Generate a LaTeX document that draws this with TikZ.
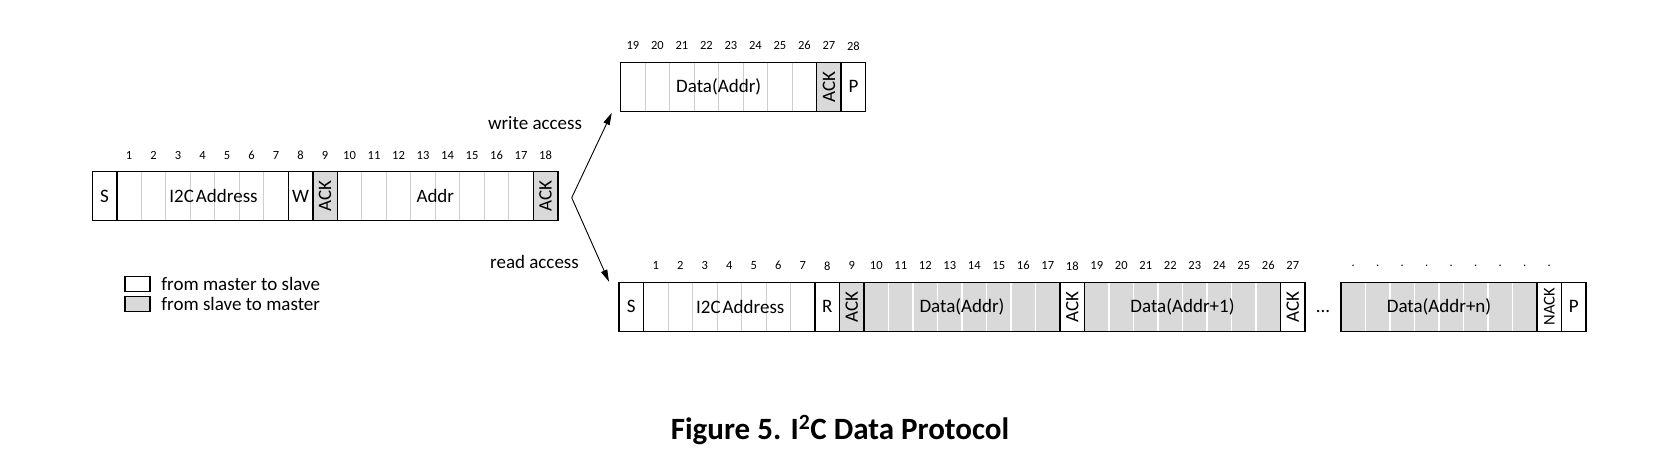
\documentclass[tikz,border=0pt]{standalone}
\usepackage{fontspec}
\setmainfont{Carlito}
\usetikzlibrary{positioning,calc,arrows.meta}

\definecolor{slavefill}{RGB}{217,217,217}
\definecolor{celldiv}{RGB}{205,205,205}

\tikzset{
    field/.style={draw=black, line width=1.5pt, outer sep=0pt, inner sep=0pt,
        minimum height=49pt, font=\fontsize{19}{21}\selectfont},
    m2s/.style={field, fill=white, cellline/.style={draw=celldiv, line width=1pt}},
    s2m/.style={field, fill=slavefill, cellline/.style={draw=white, line width=1.6pt}},
    fieldw/.style={minimum width=#1*24.5pt},
    cellsplit/.style={fieldw=#1, path picture={
            \foreach \k in {2,...,#1}
                \draw[cellline] ([xshift=\k*24.5pt-24.5pt]path picture bounding box.north west)
                    -- ([xshift=\k*24.5pt-24.5pt]path picture bounding box.south west);}},
    bitnum/.style={font=\fontsize{12.5}{13}\selectfont, inner sep=0pt},
    txt/.style={font=\fontsize{19}{21}\selectfont, inner sep=0pt},
    legbox/.style={draw=black, line width=1.5pt, minimum width=25pt, minimum height=15pt, inner sep=0pt},
    access/.style={-{Triangle[length=12pt,width=6.5pt]}, line width=0.9pt}
}

\begin{document}
\begin{tikzpicture}[x=1pt, y=-1pt]
    \useasboundingbox (0,0) rectangle (1673,475);

    % Draw the address frame
    \node[m2s, fieldw=1, anchor=north west] (ls) at (92.3,171.7) {S};
    \node[m2s, cellsplit=7, right=0pt of ls] (laddr) {\hspace*{22pt}I2C\hspace{2pt}Address};
    \node[m2s, fieldw=1, right=0pt of laddr] (lw) {W};
    \node[s2m, fieldw=1, right=0pt of lw] (lack1) {\rotatebox{90}{ACK}};
    \node[m2s, cellsplit=8, right=0pt of lack1] (lreg) {Addr};
    \node[s2m, fieldw=1, right=0pt of lreg] (lack2) {\rotatebox{90}{ACK}};
    \foreach \n in {1,...,18}
        \node[bitnum] (lnum\n) at ([xshift=\n*24.5pt+12.25pt, yshift=16.5pt]ls.north west) {\n};

    % Draw the write frame
    \node[m2s, cellsplit=8, anchor=north west] (wdata) at (620.7,62.3) {Data(Addr)};
    \node[s2m, fieldw=1, right=0pt of wdata] (wack) {\rotatebox{90}{ACK}};
    \node[m2s, fieldw=1, right=0pt of wack] (wp) {P};
    \foreach \n in {19,...,28}
        \node[bitnum] (wnum\n) at ([xshift={(\n-19)*24.5pt+12.25pt}, yshift=16.5pt]wdata.north west) {\n};

    % Draw the read frame
    \node[m2s, fieldw=1, anchor=north west] (rs) at (619,282.3) {S};
    \node[m2s, cellsplit=7, right=0pt of rs] (raddr) {\hspace*{22pt}I2C\hspace{2pt}Address};
    \node[m2s, fieldw=1, right=0pt of raddr] (rr) {R};
    \node[s2m, fieldw=1, right=0pt of rr] (rack1) {\rotatebox{90}{ACK}};
    \node[s2m, cellsplit=8, right=0pt of rack1] (rdata1) {Data(Addr)};
    \node[m2s, fieldw=1, right=0pt of rdata1] (rack2) {\rotatebox{90}{ACK}};
    \node[s2m, cellsplit=8, right=0pt of rack2] (rdata2) {Data(Addr+1)};
    \node[m2s, fieldw=1, right=0pt of rdata2] (rack3) {\rotatebox{90}{ACK}};
    \node[s2m, cellsplit=8, right=36pt of rack3] (rdatan) {Data(Addr+n)};
    \node[m2s, fieldw=1, right=0pt of rdatan] (rnack) {\rotatebox{90}{\fontsize{16.5}{18}\selectfont NACK}};
    \node[m2s, fieldw=1, right=0pt of rnack] (rp) {P};
    \node[txt] (rdots) at ($(rack3.east)!0.5!(rdatan.west)+(0,5)$) {...};
    \foreach \n in {1,...,27}
        \node[bitnum] (rnum\n) at ([xshift=\n*24.5pt+12.25pt, yshift=16.5pt]rs.north west) {\n};
    \foreach \n in {0,...,8}
        \node[bitnum] (rdot\n) at ([xshift=\n*24.5pt+12.25pt, yshift=16.5pt]rdatan.north west) {.};

    % Arrows to the two accesses
    \coordinate (fork) at (571.7,197.7);
    \coordinate (wtip) at ([shift={(-9,1.6)}]wdata.south west);
    \coordinate (rtip) at ([shift={(-10,-0.6)}]rs.north west);
    \draw[access] (fork) -- (wtip);
    \draw[access] (fork) -- (rtip);
    \node[txt] (wlbl) at (535,123) {write access};
    \node[txt] (rlbl) at (534.5,261.5) {read access};

    % Legend
    \node[legbox, fill=white] (legm) at (137.5,284.2) {};
    \node[legbox, fill=slavefill] (legs) at (137.5,304.2) {};
    \node[txt, anchor=west] (legmtxt) at ([xshift=10.5pt]legm.east) {from master to slave};
    \node[txt, anchor=west] (legstxt) at ([xshift=10.5pt]legs.east) {from slave to master};

    % Caption
    \node[font=\bfseries\fontsize{31}{34}\selectfont, inner sep=0pt] (caption) at (840,430)
        {Figure 5. I\textsuperscript{2}C Data Protocol};
\end{tikzpicture}
\end{document}
